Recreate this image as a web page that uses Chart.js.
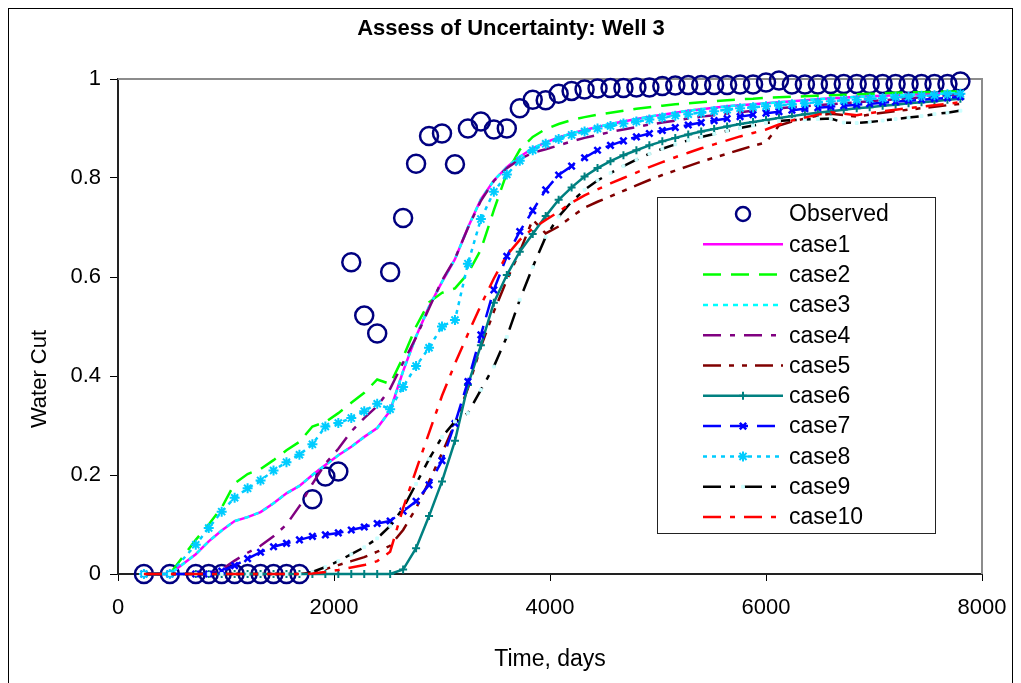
<!DOCTYPE html>
<html><head><meta charset="utf-8">
<script src="https://cdn.jsdelivr.net/npm/chart.js@4.4.1/dist/chart.umd.min.js"></script>
<style>html,body{margin:0;padding:0;background:#fff;}canvas{display:block;}</style>
</head><body>
<canvas id="c" width="1021" height="683"></canvas>
<script>
const TITLE = 'Assess of Uncertainty: Well 3';
const X_TITLE = 'Time, days';
const Y_TITLE = 'Water Cut';
const xTicks = [0, 2000, 4000, 6000, 8000];
const yTicks = [0, 0.2, 0.4, 0.6, 0.8, 1];

const days = [240,480,720,840,960,1080,1200,1320,1440,1560,
 1680,1800,1920,2040,2160,2280,2400,2520,2640,2760,
 2880,3000,3120,3240,3360,3480,3600,3720,3840,3960,
 4080,4200,4320,4440,4560,4680,4800,4920,5040,5160,
 5280,5400,5520,5640,5760,5880,6000,6120,6240,6360,
 6480,6600,6720,6840,6960,7080,7200,7320,7440,7560,
 7680,7800];

const observed = [0,0,0,0,0,0,0,0,0,0,
 0,0.151,0.197,0.207,0.630,0.522,0.486,0.610,0.719,0.829,
 0.885,0.890,0.828,0.900,0.914,0.898,0.900,0.941,0.958,0.957,
 0.970,0.976,0.979,0.981,0.982,0.982,0.983,0.983,0.986,0.987,
 0.988,0.988,0.988,0.988,0.989,0.989,0.993,0.997,0.989,0.989,
 0.989,0.990,0.990,0.990,0.990,0.990,0.990,0.990,0.990,0.990,
 0.990,0.995];

const case1 = [0,0,0.040,0.066,0.088,0.107,0.115,0.125,0.143,0.163,
 0.178,0.200,0.220,0.240,0.257,0.277,0.295,0.330,0.410,0.480,
 0.540,0.590,0.636,0.700,0.757,0.795,0.822,0.843,0.860,0.872,
 0.882,0.890,0.897,0.903,0.909,0.914,0.919,0.924,0.928,0.932,
 0.936,0.939,0.942,0.945,0.947,0.949,0.951,0.953,0.955,0.957,
 0.959,0.961,0.962,0.964,0.965,0.966,0.967,0.968,0.969,0.970,
 0.971,0.972];

const case2 = [0,0,0.069,0.100,0.134,0.183,0.202,0.212,0.230,0.250,
 0.267,0.298,0.307,0.325,0.346,0.366,0.393,0.384,0.438,0.500,
 0.549,0.568,0.577,0.607,0.655,0.735,0.810,0.857,0.883,0.899,
 0.909,0.917,0.923,0.928,0.932,0.936,0.940,0.943,0.946,0.949,
 0.951,0.953,0.955,0.957,0.959,0.960,0.962,0.963,0.964,0.965,
 0.966,0.967,0.968,0.969,0.970,0.971,0.972,0.973,0.973,0.974,
 0.975,0.975];

const case3 = [0,0,0.040,0.066,0.088,0.107,0.115,0.125,0.143,0.163,
 0.178,0.200,0.220,0.240,0.257,0.277,0.295,0.330,0.410,0.480,
 0.540,0.590,0.636,0.700,0.757,0.795,0.822,0.843,0.860,0.872,
 0.882,0.890,0.897,0.903,0.909,0.914,0.919,0.924,0.928,0.932,
 0.936,0.939,0.942,0.945,0.947,0.949,0.951,0.953,0.955,0.957,
 0.959,0.961,0.962,0.964,0.965,0.966,0.967,0.968,0.969,0.970,
 0.971,0.972];

const case4 = [0,0,0,0,0.009,0.027,0.043,0.057,0.076,0.100,
 0.137,0.182,0.223,0.253,0.288,0.315,0.339,0.374,0.427,0.478,
 0.537,0.593,0.637,0.699,0.754,0.794,0.820,0.838,0.851,0.858,
 0.866,0.874,0.881,0.887,0.893,0.898,0.903,0.908,0.912,0.916,
 0.920,0.924,0.927,0.930,0.933,0.936,0.939,0.941,0.943,0.945,
 0.947,0.949,0.951,0.953,0.955,0.957,0.959,0.961,0.963,0.965,
 0.967,0.969];

const case5 = [0,0,0,0,0,0,0,0,0,0,
 0,0.003,0.010,0.018,0.026,0.034,0.045,0.057,0.089,0.133,
 0.187,0.244,0.304,0.375,0.459,0.530,0.594,0.651,0.716,0.688,
 0.702,0.722,0.740,0.752,0.763,0.774,0.785,0.796,0.806,0.815,
 0.824,0.833,0.841,0.849,0.857,0.865,0.872,0.906,0.914,0.920,
 0.926,0.930,0.927,0.924,0.928,0.932,0.935,0.938,0.941,0.944,
 0.947,0.950];

const case6 = [0,0,0,0,0,0,0,0,0,0,
 0,0,0,0,0,0,0,0,0.009,0.052,
 0.117,0.187,0.269,0.382,0.462,0.548,0.604,0.651,0.687,0.723,
 0.756,0.781,0.803,0.820,0.834,0.846,0.856,0.866,0.874,0.881,
 0.888,0.894,0.899,0.904,0.909,0.913,0.917,0.921,0.925,0.929,
 0.932,0.935,0.938,0.941,0.943,0.946,0.948,0.951,0.953,0.955,
 0.958,0.960];

const case7 = [0,0,0,0,0.006,0.017,0.031,0.044,0.055,0.062,
 0.069,0.076,0.079,0.083,0.089,0.095,0.102,0.107,0.127,0.147,
 0.180,0.229,0.304,0.389,0.483,0.574,0.642,0.692,0.734,0.776,
 0.806,0.824,0.841,0.856,0.866,0.875,0.883,0.890,0.896,0.902,
 0.907,0.912,0.916,0.920,0.924,0.928,0.931,0.934,0.937,0.940,
 0.942,0.944,0.946,0.948,0.950,0.952,0.954,0.956,0.958,0.960,
 0.962,0.964];

const case8 = [0,0,0.059,0.093,0.126,0.154,0.173,0.189,0.209,0.226,
 0.241,0.262,0.298,0.305,0.315,0.329,0.344,0.333,0.378,0.420,
 0.457,0.500,0.513,0.627,0.717,0.772,0.807,0.835,0.856,0.869,
 0.879,0.887,0.894,0.900,0.905,0.910,0.914,0.918,0.922,0.926,
 0.929,0.932,0.935,0.938,0.941,0.943,0.945,0.947,0.949,0.951,
 0.953,0.955,0.957,0.958,0.960,0.961,0.963,0.964,0.966,0.967,
 0.969,0.970];

const case9 = [0,0,0,0,0,0,0,0,0,0,
 0,0.004,0.014,0.026,0.040,0.054,0.072,0.097,0.133,0.182,
 0.232,0.277,0.308,0.325,0.372,0.419,0.479,0.554,0.620,0.681,
 0.722,0.752,0.776,0.795,0.810,0.824,0.837,0.849,0.859,0.868,
 0.876,0.883,0.889,0.895,0.901,0.906,0.911,0.915,0.917,0.918,
 0.919,0.920,0.912,0.911,0.913,0.916,0.919,0.922,0.925,0.929,
 0.932,0.936];

const case10 = [0,0,0,0,0,0,0,0,0,0,
 0,0.001,0.004,0.008,0.013,0.018,0.026,0.045,0.133,0.210,
 0.285,0.360,0.425,0.485,0.543,0.597,0.644,0.675,0.698,0.715,
 0.732,0.750,0.765,0.777,0.789,0.800,0.811,0.822,0.832,0.842,
 0.851,0.860,0.868,0.876,0.884,0.891,0.898,0.908,0.916,0.922,
 0.928,0.933,0.930,0.927,0.931,0.935,0.938,0.941,0.944,0.947,
 0.950,0.953];

const FONT = '"Liberation Sans", Arial, Helvetica, sans-serif';
function pts(vals){ return days.map((d,i)=>({x:d, y:vals[i]})); }

function line(label, vals, color, dash, order, extra){
  return Object.assign({
    label, data: pts(vals), borderColor: color, backgroundColor: color,
    borderWidth: 2.5, borderDash: dash, pointRadius: 0, tension: 0,
    order, clip: false, fill: false
  }, extra || {});
}

const datasets = [
  {label:'Observed', data: pts(observed), showLine:false, pointStyle:'circle', pointRadius:9,
   pointBorderWidth:2.5, borderColor:'#000080', pointBorderColor:'#000080',
   backgroundColor:'rgba(255,255,255,0)', pointBackgroundColor:'rgba(255,255,255,0)', order:11, clip:false},
  line('case1', case1, '#FF00FF', [], 10),
  line('case2', case2, '#00FF00', [18,10], 9),
  line('case3', case3, '#00FFFF', [5,5], 8),
  line('case4', case4, '#800080', [18,9,5,9], 7),
  line('case5', case5, '#800000', [18,8,5,8,5,8], 6),
  line('case6', case6, '#008080', [], 5, {pointStyle:'cross', pointRadius:4, pointBorderWidth:2, pointBorderColor:'#008080'}),
  line('case7', case7, '#0000FF', [18,9], 4, {pointStyle:'crossRot', pointRadius:4.5, pointBorderWidth:2.5, pointBorderColor:'#0000FF'}),
  line('case8', case8, '#00CCFF', [4,5], 3, {pointStyle:'star', pointRadius:5, pointBorderWidth:2, pointBorderColor:'#00CCFF'}),
  line('case9', case9, '#000000', [18,9,5,9], 2, {pointStyle:'rect', pointRadius:2, pointBorderWidth:1, pointBorderColor:'#CCFFFF', pointBackgroundColor:'#CCFFFF'}),
  line('case10', case10, '#FF0000', [18,9,5,9], 1)
];

const framePlugin = {
  id: 'frame',
  beforeDraw(chart){
    const ctx = chart.ctx;
    ctx.save();
    ctx.fillStyle = '#fff';
    ctx.fillRect(0,0,chart.width,chart.height);
    ctx.strokeStyle = '#000'; ctx.lineWidth = 1;
    ctx.strokeRect(8.5, 8.5, 1004, 700);
    // chart title, centred on the outer frame
    ctx.fillStyle = '#000';
    ctx.font = 'bold 22px ' + FONT;
    ctx.textAlign = 'center'; ctx.textBaseline = 'middle';
    ctx.fillText(TITLE, 511, 29);
    ctx.restore();
  },
  beforeDatasetsDraw(chart){
    const {left,right,top,bottom} = chart.chartArea;
    const ctx = chart.ctx;
    ctx.save();
    ctx.strokeStyle = '#8c8c8c'; ctx.lineWidth = 2;
    ctx.beginPath();
    ctx.moveTo(left, top); ctx.lineTo(right, top); ctx.lineTo(right, bottom);
    ctx.stroke();
    ctx.fillStyle = '#000';
    ctx.font = '22px ' + FONT;
    ctx.textAlign = 'center'; ctx.textBaseline = 'middle';
    ctx.translate(40, 379);
    ctx.rotate(-Math.PI/2);
    ctx.fillText(Y_TITLE, 0, 0);
    ctx.restore();
  },
  afterDraw(chart){
    const ctx = chart.ctx;
    const bx = 657, by = 197, bw = 278, bh = 336;
    ctx.save();
    ctx.fillStyle = '#fff';
    ctx.fillRect(bx, by, bw, bh);
    ctx.strokeStyle = '#222'; ctx.lineWidth = 1;
    ctx.strokeRect(bx+0.5, by+0.5, bw, bh);
    const x0 = 703, x1 = 783, xc = 743, tx = 789;
    ctx.font = '23px ' + FONT;
    ctx.textBaseline = 'middle';
    ctx.textAlign = 'left';
    chart.data.datasets.forEach((ds, k) => {
      const y = 214 + k * 30.3;
      if (ds.showLine === false) {
        ctx.setLineDash([]);
        ctx.strokeStyle = ds.pointBorderColor; ctx.lineWidth = 2.5;
        ctx.beginPath(); ctx.arc(xc, y, 7, 0, Math.PI*2); ctx.stroke();
      } else {
        ctx.setLineDash(ds.borderDash || []);
        ctx.strokeStyle = ds.borderColor; ctx.lineWidth = ds.borderWidth;
        ctx.beginPath(); ctx.moveTo(x0, y); ctx.lineTo(x1, y); ctx.stroke();
        ctx.setLineDash([]);
        if (ds.pointRadius > 0) {
          ctx.strokeStyle = ds.pointBorderColor;
          ctx.fillStyle = ds.pointBackgroundColor || ds.pointBorderColor;
          ctx.lineWidth = ds.pointBorderWidth;
          Chart.helpers.drawPoint(ctx, {pointStyle: ds.pointStyle, radius: ds.pointRadius, borderWidth: ds.pointBorderWidth, rotation: 0}, xc, y);
        }
      }
      ctx.fillStyle = '#000';
      ctx.fillText(ds.label, tx, y + 1);
    });
    ctx.restore();
  }
};

new Chart(document.getElementById('c'), {
  type: 'line',
  data: { datasets },
  options: {
    responsive: false, animation: false, devicePixelRatio: 1,
    layout: { padding: { left: 0, right: 39, top: 79, bottom: 0 } },
    plugins: {
      legend: { display: false },
      tooltip: { enabled: false },
      title: { display: false }
    },
    scales: {
      x: {
        type: 'linear', min: xTicks[0], max: xTicks[xTicks.length-1],
        afterBuildTicks(s){ s.ticks = xTicks.map(v => ({value: v})); },
        ticks: { callback: v => String(v), color: '#000', font: { family: FONT, size: 22 }, padding: 14, maxRotation: 0 },
        grid: { drawOnChartArea: false, drawTicks: true, tickLength: 7, color: '#000', lineWidth: 1 },
        border: { display: true, color: '#222', width: 2 },
        title: { display: true, text: X_TITLE, color: '#000', font: { family: FONT, size: 23 }, padding: { top: 0, bottom: 10 } },
        afterFit(s){ s.height = 109; }
      },
      y: {
        type: 'linear', min: yTicks[0], max: yTicks[yTicks.length-1],
        afterBuildTicks(s){ s.ticks = yTicks.map(v => ({value: v})); },
        ticks: { callback: v => String(Math.round(v*10)/10), color: '#000', font: { family: FONT, size: 22 }, padding: 9 },
        grid: { drawOnChartArea: false, drawTicks: true, tickLength: 8, color: '#000', lineWidth: 1 },
        border: { display: true, color: '#222', width: 2 },
        title: { display: false },
        afterFit(s){ s.width = 118; }
      }
    }
  },
  plugins: [framePlugin]
});
</script>
</body></html>
